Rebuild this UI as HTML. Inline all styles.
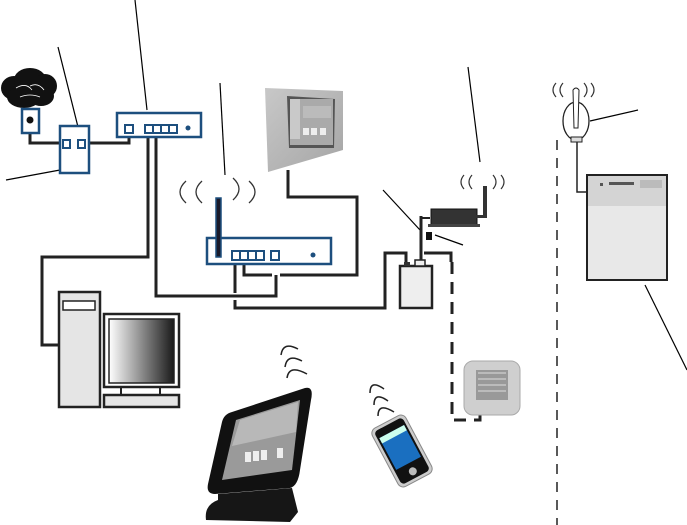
<!DOCTYPE html>
<html><head><style>html,body{margin:0;padding:0;background:#fff}svg{display:block}</style></head>
<body>
<svg width="687" height="525" viewBox="0 0 687 525" xmlns="http://www.w3.org/2000/svg">
<defs>
<linearGradient id="mg" x1="0" x2="1" y1="0" y2="0"><stop offset="0" stop-color="#fff"/><stop offset="1" stop-color="#1a1a1a"/></linearGradient>
<linearGradient id="wp" x1="0" x2="1" y1="0" y2="1"><stop offset="0" stop-color="#c8c8c8"/><stop offset="1" stop-color="#a5a5a5"/></linearGradient>
</defs>
<g stroke="#000" stroke-width="1.2" fill="none">
<line x1="135" y1="0" x2="147" y2="110"/>
<line x1="58" y1="47" x2="78" y2="127"/>
<line x1="6" y1="180" x2="60" y2="170"/>
<line x1="220" y1="83" x2="225" y2="175"/>
<line x1="468" y1="67" x2="480" y2="162"/>
<line x1="383" y1="190" x2="420" y2="230"/>
<line x1="435" y1="235" x2="463" y2="245"/>
<line x1="590" y1="121" x2="638" y2="110"/>
<line x1="645" y1="285" x2="687" y2="370"/>
</g>
<!-- cloud -->
<g fill="#111"><ellipse cx="14" cy="88" rx="13" ry="12"/><ellipse cx="30" cy="80" rx="16" ry="12"/><ellipse cx="45" cy="86" rx="12" ry="12"/><ellipse cx="24" cy="97" rx="17" ry="11"/><ellipse cx="41" cy="96" rx="13" ry="10"/></g>
<g stroke="#fff" stroke-width="0.8" fill="none"><path d="M16 88 q10 -6 16 2 M30 86 q8 -4 14 4 M20 97 q10 -4 20 0"/></g>
<!-- black wiring -->
<g stroke="#222" stroke-width="3" fill="none">
<polyline points="30,122 30,143 64,143"/>
<polyline points="85,143 129,143 129,133"/>
<polyline points="148,133 148,257 42,257 42,345 59,345"/>
<polyline points="156,133 156,296 276,296 276,275"/>
<polyline points="235,260 235,293"/>
<polyline points="235,300 235,308 385,308 385,253 406,253 406,266"/>
<polyline points="244,260 244,275 272,275"/>
<polyline points="280,275 357,275 357,197 288,197 288,170"/>
<polyline points="421,216 421,262"/>
<polyline points="424,253 451,253 451,262"/>
</g>
<line x1="421" y1="218" x2="430" y2="218" stroke="#222" stroke-width="2"/>
<g stroke="#222" stroke-width="3" fill="none" stroke-dasharray="12,8">
<polyline points="452,262 452,420 480,420 480,412"/>
</g>
<line x1="557" y1="140" x2="557" y2="525" stroke="#222" stroke-width="1.5" stroke-dasharray="10,8"/>
<rect x="22" y="109" width="17" height="24" fill="#fff" stroke="#1d4f7e" stroke-width="2.5"/>
<circle cx="30" cy="120" r="3.5" fill="#111"/>
<rect x="60" y="126" width="29" height="47" fill="#fff" stroke="#1d4f7e" stroke-width="2.5"/>
<rect x="63" y="140" width="7" height="8" fill="#fff" stroke="#1d4f7e" stroke-width="2"/>
<rect x="78" y="140" width="7" height="8" fill="#fff" stroke="#1d4f7e" stroke-width="2"/>
<rect x="117" y="113" width="84" height="24" fill="#fff" stroke="#1d4f7e" stroke-width="2.5"/>
<rect x="125" y="125" width="8" height="8" fill="#fff" stroke="#1d4f7e" stroke-width="2"/>
<g fill="#fff" stroke="#1d4f7e" stroke-width="2"><rect x="145" y="125" width="8" height="8"/><rect x="153" y="125" width="8" height="8"/><rect x="161" y="125" width="8" height="8"/><rect x="169" y="125" width="8" height="8"/></g>
<circle cx="188" cy="128" r="2.5" fill="#1d4f7e"/>
<g stroke="#333" stroke-width="1.3" fill="none">
<path d="M186 181 q-12 11 0 22"/><path d="M202 181 q-12 11 0 22"/>
<path d="M233 178 q12 11 0 22"/><path d="M249 181 q12 11 0 22"/>
</g>
<rect x="207" y="238" width="124" height="26" fill="#fff" stroke="#1d4f7e" stroke-width="2.5"/>
<rect x="216" y="198" width="5" height="59" fill="#1a1a2a" stroke="#1d4f7e" stroke-width="1.5"/>
<g fill="#fff" stroke="#1d4f7e" stroke-width="2"><rect x="232" y="251" width="8" height="9"/><rect x="240" y="251" width="8" height="9"/><rect x="248" y="251" width="8" height="9"/><rect x="256" y="251" width="8" height="9"/><rect x="271" y="251" width="8" height="9"/></g>
<circle cx="313" cy="255" r="2.5" fill="#1d4f7e"/>
<!-- wall panel -->
<polygon points="265,88 343,91 343,150 268,172" fill="url(#wp)"/>
<polygon points="287,96 335,99 334,148 289,148" fill="#555"/>
<rect x="290" y="99" width="43" height="46" fill="#aaa"/>
<rect x="290" y="99" width="10" height="40" fill="#c9c9c9"/>
<g fill="#eee"><rect x="303" y="128" width="6" height="7"/><rect x="311" y="128" width="6" height="7"/><rect x="320" y="128" width="6" height="7"/></g>
<rect x="303" y="106" width="28" height="12" fill="#bbb"/>
<g stroke="#333" stroke-width="1.2" fill="none">
<path d="M464 175 q-6 7 0 14"/><path d="M472 175 q-6 7 0 14"/>
<path d="M493 175 q6 7 0 14"/><path d="M501 175 q6 7 0 14"/>
</g>
<rect x="431" y="209" width="46" height="16" fill="#333" stroke="#111"/>
<rect x="428" y="224" width="52" height="3" fill="#444"/>
<rect x="483" y="186" width="4" height="32" fill="#333"/>
<rect x="476" y="215" width="11" height="3" fill="#333"/>
<rect x="426" y="232" width="6" height="8" fill="#111"/>
<rect x="400" y="266" width="32" height="42" fill="#eee" stroke="#222" stroke-width="2.5"/>
<rect x="404" y="262" width="6" height="4" fill="#333"/>
<rect x="415" y="260" width="10" height="6" fill="#eee" stroke="#222" stroke-width="1.5"/>
<rect x="464" y="361" width="56" height="54" rx="9" fill="#cfcfcf" stroke="#aaa"/>
<rect x="476" y="370" width="32" height="30" fill="#999"/>
<g fill="#bbb"><rect x="478" y="372" width="28" height="2"/><rect x="478" y="378" width="28" height="2"/><rect x="478" y="384" width="28" height="2"/><rect x="478" y="390" width="28" height="2"/></g>
<g stroke="#333" stroke-width="1.2" fill="none">
<path d="M556 83 q-6 7 0 14"/><path d="M563 83 q-6 7 0 14"/>
<path d="M584 83 q6 7 0 14"/><path d="M591 83 q6 7 0 14"/>
</g>
<ellipse cx="576" cy="121" rx="13" ry="19" fill="#fff" stroke="#222" stroke-width="1.3"/>
<path d="M573 90 q3 -4 6 0 l-1 38 h-4 z" fill="#fff" stroke="#222"/>
<rect x="571" y="137" width="11" height="5" fill="#ddd" stroke="#222"/>
<polyline points="577,142 577,192 587,192" stroke="#222" stroke-width="1.5" fill="none"/>
<rect x="587" y="175" width="80" height="105" fill="#e8e8e8" stroke="#222" stroke-width="2"/>
<rect x="588" y="176" width="78" height="30" fill="#d4d4d4"/>
<g fill="#555"><rect x="600" y="183" width="3" height="3"/><rect x="609" y="182" width="25" height="3"/></g>
<rect x="640" y="180" width="22" height="8" fill="#bbb"/>
<rect x="59" y="292" width="41" height="115" fill="#e5e5e5" stroke="#222" stroke-width="2.5"/>
<rect x="63" y="301" width="32" height="9" fill="#fff" stroke="#222" stroke-width="1.5"/>
<rect x="104" y="314" width="75" height="73" fill="#fff" stroke="#222" stroke-width="2.5"/>
<rect x="109" y="319" width="65" height="64" fill="url(#mg)" stroke="#222" stroke-width="1.5"/>
<line x1="121" y1="387" x2="121" y2="395" stroke="#222" stroke-width="2"/>
<line x1="160" y1="387" x2="160" y2="395" stroke="#222" stroke-width="2"/>
<rect x="104" y="395" width="75" height="12" fill="#e5e5e5" stroke="#222" stroke-width="2.5"/>
<g stroke="#222" stroke-width="1.5" fill="none">
<path d="M281 355 q2 -14 17 -6"/><path d="M285 367 q2 -14 17 -6"/><path d="M287 378 q2 -14 20 -4"/>
<path d="M370 393 q0 -14 14 -4"/><path d="M374 405 q0 -14 14 -4"/><path d="M378 416 q0 -14 16 -4"/>
</g>
<path d="M232 412 L305 388 Q314 386 311 400 L300 470 Q298 486 290 488 L215 494 Q206 494 208 484 L222 422 Q224 414 232 412 Z" fill="#111"/>
<path d="M236 420 L300 400 L292 470 L222 480 Z" fill="#9a9a9a"/>
<path d="M240 420 L298 402 L296 432 L232 446 Z" fill="#b8b8b8"/>
<g fill="#eee"><rect x="245" y="452" width="6" height="10"/><rect x="253" y="451" width="6" height="10"/><rect x="261" y="450" width="6" height="10"/><rect x="277" y="448" width="6" height="10"/></g>
<path d="M218 494 L292 488 L298 512 L290 522 L206 520 Q204 505 218 500 Z" fill="#161616"/>
<g transform="rotate(-28 402 451)">
<rect x="383" y="418" width="38" height="66" rx="6" fill="#ccc" stroke="#888"/>
<rect x="386" y="421" width="32" height="60" rx="4" fill="#111"/>
<rect x="388" y="429" width="28" height="36" fill="#1a6fc0"/>
<rect x="388" y="429" width="28" height="6" fill="#cfe"/>
<circle cx="402" cy="474" r="4" fill="#bbb"/>
</g>
</svg>
</body></html>
